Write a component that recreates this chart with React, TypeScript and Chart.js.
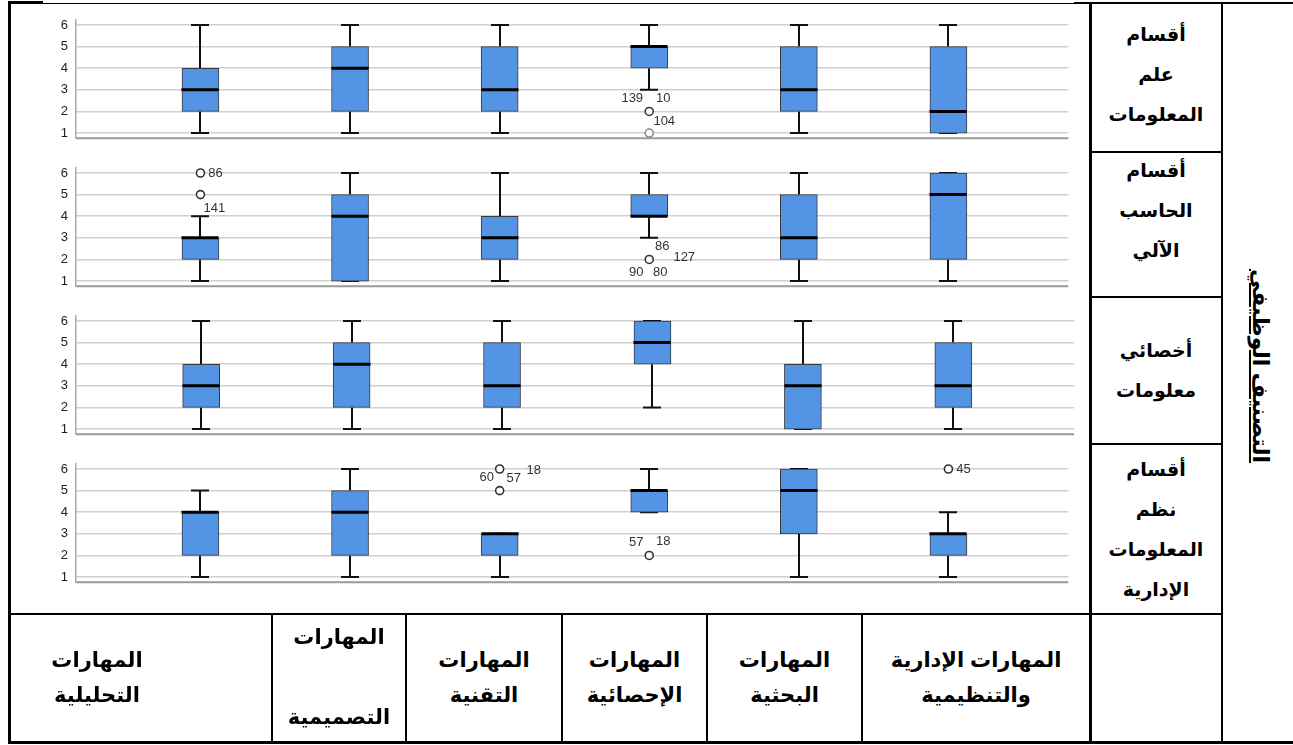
import React, { useEffect, useRef } from "react";
import { Chart, registerables } from "chart.js";
Chart.register(...registerables);

// ---------- data ----------
const skillLabels: string[][] = [
  ["المهارات", "التحليلية"],
  ["المهارات", "التصميمية"],
  ["المهارات", "التقنية"],
  ["المهارات", "الإحصائية"],
  ["المهارات", "البحثية"],
  ["المهارات الإدارية", "والتنظيمية"],
];
const groupLabels: string[][] = [
  ["أقسام", "علم", "المعلومات"],
  ["أقسام", "الحاسب", "الآلي"],
  ["أخصائي", "معلومات"],
  ["أقسام", "نظم", "المعلومات", "الإدارية"],
];
const axisTitle = "التصنيف الوظيفي";
const yTicks = [1, 2, 3, 4, 5, 6];

// rows = groups (panels), columns = skills
const whiskerLow = [
  [1, 1, 1, 3, 1, 1],
  [1, 1, 1, 3, 1, 1],
  [1, 1, 1, 2, 1, 1],
  [1, 1, 1, 4, 1, 1],
];
const quartile1 = [
  [2, 2, 2, 4, 2, 1],
  [2, 1, 2, 4, 2, 2],
  [2, 2, 2, 4, 1, 2],
  [2, 2, 2, 4, 3, 2],
];
const medians = [
  [3, 4, 3, 5, 3, 2],
  [3, 4, 3, 4, 3, 5],
  [3, 4, 3, 5, 3, 3],
  [4, 4, 3, 5, 5, 3],
];
const quartile3 = [
  [4, 5, 5, 5, 5, 5],
  [3, 5, 4, 5, 5, 6],
  [4, 5, 5, 6, 4, 5],
  [4, 5, 3, 5, 6, 3],
];
const whiskerHigh = [
  [6, 6, 6, 6, 6, 6],
  [4, 6, 6, 6, 6, 6],
  [6, 6, 6, 6, 6, 6],
  [5, 6, 3, 6, 6, 4],
];

// outliers
const outlierGroup = [0, 0, 1, 1, 1, 3, 3, 3, 3];
const outlierSkill = [3, 3, 0, 0, 3, 2, 2, 3, 5];
const outlierValue = [2, 1, 6, 5, 2, 6, 5, 2, 6];
const outlierCaseIds: string[][] = [
  ["139", "10", "104"],
  [],
  ["86"],
  ["141"],
  ["86", "127", "90", "80"],
  ["18"],
  ["60", "57"],
  ["57", "18"],
  ["45"],
];

// ---------- layout / style ----------
const labelOffsets: number[][][] = [
  [[-17, -13], [14, -13], [15, 10]],
  [],
  [[15, 0]],
  [[14, 14]],
  [[13, -13], [35, -2], [-13, 13], [11, 13]],
  [[34, 1]],
  [[-13, -13], [14, -12]],
  [[-13, -13], [14, -14]],
  [[15, 0]],
];
const outlierFaded = [false, true, false, false, false, false, false, false, false];

const FONT = 'Arial, "Liberation Sans", "DejaVu Sans", sans-serif';
const BOX_FILL = "#5394e4";
const PANEL_TOPS = [10, 158, 306, 454];
const PLOT_H = 138;
const PAD = 6;
const CANVAS_LEFT = 10;
const CANVAS_W = 1064;

const boxPartsPlugin = {
  id: "boxParts",
  beforeDatasetsDraw(chart: any) {
    const g = chart.options.plugins.boxParts.group;
    const { ctx, chartArea, scales } = chart;
    const x = scales.x;
    const y = scales.y;
    ctx.save();
    ctx.strokeStyle = "#9a9a9a";
    ctx.lineWidth = 2;
    ctx.beginPath();
    ctx.moveTo(chartArea.left, chartArea.bottom);
    ctx.lineTo(chartArea.right, chartArea.bottom);
    ctx.stroke();
    ctx.strokeStyle = "#111";
    ctx.lineWidth = 2;
    ctx.lineCap = "butt";
    for (let i = 0; i < skillLabels.length; i++) {
      const cx = Math.round(x.getPixelForValue(i));
      const yl = y.getPixelForValue(whiskerLow[g][i]);
      const y1 = y.getPixelForValue(quartile1[g][i]);
      const y3 = y.getPixelForValue(quartile3[g][i]);
      const yh = y.getPixelForValue(whiskerHigh[g][i]);
      ctx.beginPath();
      ctx.moveTo(cx, y3);
      ctx.lineTo(cx, yh);
      ctx.moveTo(cx, y1);
      ctx.lineTo(cx, yl);
      ctx.moveTo(cx - 9, yh);
      ctx.lineTo(cx + 9, yh);
      ctx.moveTo(cx - 9, yl);
      ctx.lineTo(cx + 9, yl);
      ctx.stroke();
    }
    ctx.restore();
  },
  afterDatasetsDraw(chart: any) {
    const g = chart.options.plugins.boxParts.group;
    const { ctx, scales } = chart;
    const x = scales.x;
    const y = scales.y;
    ctx.save();
    ctx.strokeStyle = "#000";
    ctx.lineWidth = 3;
    for (let i = 0; i < skillLabels.length; i++) {
      const cx = Math.round(x.getPixelForValue(i));
      const ym = y.getPixelForValue(medians[g][i]);
      ctx.beginPath();
      ctx.moveTo(cx - 18.5, ym);
      ctx.lineTo(cx + 18.5, ym);
      ctx.stroke();
    }
    ctx.fillStyle = "#333";
    ctx.font = "13px " + FONT;
    ctx.textAlign = "center";
    ctx.textBaseline = "middle";
    outlierValue.forEach((v, k) => {
      if (outlierGroup[k] !== g) return;
      const px = x.getPixelForValue(outlierSkill[k]);
      const py = y.getPixelForValue(v);
      outlierCaseIds[k].forEach((id, j) => {
        const off = labelOffsets[k][j];
        ctx.fillText(id, px + off[0], py + off[1]);
      });
    });
    ctx.restore();
  },
};

function Panel({ g }: { g: number }) {
  const ref = useRef<HTMLCanvasElement>(null);
  useEffect(() => {
    if (!ref.current) return;
    const boxes = skillLabels.map((_, i) => ({ x: i, y: [quartile1[g][i], quartile3[g][i]] }));
    const pts: any[] = [];
    const ptColors: string[] = [];
    outlierValue.forEach((v, k) => {
      if (outlierGroup[k] === g) {
        pts.push({ x: outlierSkill[k], y: v });
        ptColors.push(outlierFaded[k] ? "#8a8a8a" : "#333");
      }
    });
    const chart = new Chart(ref.current, {
      type: "bar",
      data: {
        datasets: [
          {
            type: "bar",
            data: boxes as any,
            backgroundColor: BOX_FILL,
            borderColor: "#3a3a3a",
            borderWidth: 1,
            borderSkipped: false,
            barThickness: 37,
            order: 2,
          } as any,
          {
            type: "scatter",
            data: pts,
            pointRadius: 4,
            pointHoverRadius: 4,
            pointBorderWidth: 1.6,
            pointBackgroundColor: "#fff",
            pointBorderColor: ptColors,
            order: 1,
          } as any,
        ],
      },
      options: {
        animation: false,
        responsive: false,
        maintainAspectRatio: false,
        events: [],
        layout: { padding: { top: PAD, bottom: PAD, left: 0, right: 0 } },
        plugins: {
          legend: { display: false },
          tooltip: { enabled: false },
          boxParts: { group: g },
        } as any,
        scales: {
          x: {
            type: "linear",
            display: false,
            offset: false,
            min: -0.832,
            max: 5.802,
          },
          y: {
            type: "linear",
            min: 0.762,
            max: 6.24,
            afterBuildTicks: (s: any) => {
              s.ticks = yTicks.map((v) => ({ value: v }));
            },
            afterFit: (s: any) => {
              s.width = 66;
            },
            ticks: {
              padding: 8,
              color: "#222",
              font: { family: FONT, size: 13 },
            },
            grid: {
              color: "#cfcfcf",
              lineWidth: 1.6,
              drawTicks: false,
            },
            border: { display: true, color: "#a8a8a8", width: 1.5 },
          },
        },
      } as any,
      plugins: [boxPartsPlugin as any],
    });
    return () => chart.destroy();
  }, [g]);
  const h = PLOT_H + PAD * 2;
  return (
    <canvas
      ref={ref}
      width={CANVAS_W}
      height={h}
      style={{ position: "absolute", left: CANVAS_LEFT, top: PANEL_TOPS[g] - PAD, width: CANVAS_W, height: h }}
    />
  );
}

function HLine({ x1, x2, y, w }: { x1: number; x2: number; y: number; w: number }) {
  return <div style={{ position: "absolute", left: x1, top: y - w / 2, width: x2 - x1, height: w, background: "#000" }} />;
}
function VLine({ x, y1, y2, w }: { x: number; y1: number; y2: number; w: number }) {
  return <div style={{ position: "absolute", left: x - w / 2, top: y1, width: w, height: y2 - y1, background: "#000" }} />;
}

const groupLabelTops = [15, 151, 331, 450];
const skillCols = [
  [8, 186],
  [272, 406],
  [406, 562],
  [562, 707],
  [707, 862],
  [862, 1090],
];
const skillLineGap = [35, 80, 35, 35, 35, 35];

export default function App() {
  useEffect(() => {
    document.body.style.margin = "0";
  }, []);
  return (
    <div
      style={{
        position: "fixed",
        left: 0,
        top: 0,
        width: 1293,
        height: 745,
        background: "#fff",
        overflow: "hidden",
        fontFamily: FONT,
      }}
    >
      {groupLabels.map((_, g) => (
        <Panel key={g} g={g} />
      ))}

      {/* table lines */}
      <HLine x1={8} x2={1293} y={3.5} w={1.5} />
      <HLine x1={8} x2={43} y={2} w={3} />
      <HLine x1={1074} x2={1293} y={3} w={2.5} />
      <HLine x1={1090} x2={1222} y={152} w={2.5} />
      <HLine x1={1090} x2={1222} y={297} w={2.5} />
      <HLine x1={1090} x2={1222} y={444} w={2.5} />
      <HLine x1={8} x2={1222} y={614} w={2.5} />
      <HLine x1={8} x2={1293} y={742} w={3} />
      <VLine x={9} y1={2} y2={743} w={3} />
      <VLine x={1090} y1={2} y2={743} w={3} />
      <VLine x={1222} y1={2} y2={743} w={2.5} />
      {[272, 406, 562, 707, 862].map((x) => (
        <VLine key={x} x={x} y1={614} y2={743} w={2.5} />
      ))}

      {/* group labels */}
      {groupLabels.map((lines, g) => (
        <div
          key={"g" + g}
          dir="rtl"
          style={{
            position: "absolute",
            left: 1091,
            width: 130,
            top: groupLabelTops[g],
            textAlign: "center",
            fontWeight: "bold",
            fontSize: 19,
            lineHeight: "40px",
            color: "#000",
          }}
        >
          {lines.map((t, i) => (
            <div key={i}>{t}</div>
          ))}
        </div>
      ))}

      {/* skill labels */}
      {skillLabels.map((lines, i) => {
        const gap = skillLineGap[i];
        const center = 677;
        return (
          <div
            key={"s" + i}
            dir="rtl"
            style={{
              position: "absolute",
              left: skillCols[i][0],
              width: skillCols[i][1] - skillCols[i][0],
              top: center - gap,
              textAlign: "center",
              fontWeight: "bold",
              fontSize: 21,
              lineHeight: gap + "px",
              color: "#000",
            }}
          >
            {lines.map((t, j) => (
              <div key={j}>{t}</div>
            ))}
          </div>
        );
      })}

      {/* vertical axis title */}
      <div
        dir="rtl"
        style={{
          position: "absolute",
          left: 1260 - 120,
          top: 366 - 16,
          width: 240,
          height: 32,
          lineHeight: "32px",
          textAlign: "center",
          fontWeight: "bold",
          fontSize: 22,
          textDecoration: "underline",
          transform: "rotate(90deg)",
          color: "#000",
          whiteSpace: "nowrap",
        }}
      >
        {axisTitle}
      </div>
    </div>
  );
}
